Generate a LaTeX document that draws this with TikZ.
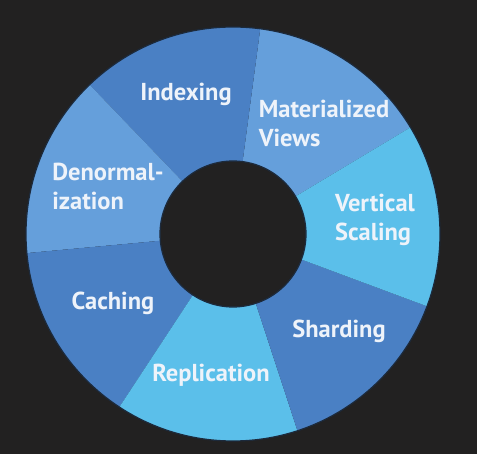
\documentclass[tikz,border=0pt]{standalone}
\usepackage{fontspec}
\setmainfont{PT Sans}
\definecolor{bgdark}{HTML}{222121}
\definecolor{segdark}{HTML}{4A80C4}
\definecolor{seglight}{HTML}{659FDB}
\definecolor{segsky}{HTML}{5BBFEA}
\definecolor{rimnavy}{HTML}{1C2A3C}
\definecolor{labelwhite}{HTML}{EEF3FA}
\tikzset{
  seglabel/.style={text=labelwhite, font=\bfseries\fontsize{24.5}{29}\selectfont, align=left, inner sep=0pt},
}
\begin{document}
\begin{tikzpicture}[x=1pt,y=1pt]
  \fill[bgdark] (-233,-220) rectangle (244,234);
  \useasboundingbox (-233,-220) rectangle (244,234);
  % seven equal wedges of the ring, from 31 degrees on
  \foreach \k/\col in {0/seglight,1/segdark,2/seglight,3/segdark,4/segsky,5/segdark,6/segsky}{
    \pgfmathsetmacro{\a}{31+\k*360/7}
    \pgfmathsetmacro{\b}{31+(\k+1)*360/7}
    \fill[\col] (\a:207) arc[start angle=\a,end angle=\b,radius=207]
      -- (\b:73) arc[start angle=\b,end angle=\a,radius=73] -- cycle;
  }
  \draw[rimnavy,line width=1.2pt] (0,0) circle[radius=207];
  \draw[rimnavy,line width=1.2pt] (0,0) circle[radius=73];
  \node[seglabel] (indexing) at (-47,140) {Indexing};
  \node[seglabel] (matviews) at (91,111) {Materialized\\Views};
  \node[seglabel] (vertical) at (142,14) {Vertical\\Scaling};
  \node[seglabel] (sharding) at (106,-97) {Sharding};
  \node[seglabel] (replication) at (-22,-141) {Replication};
  \node[seglabel] (caching) at (-120,-69) {Caching};
  \node[seglabel] (denorm) at (-125,48) {Denormal-\\ization};
\end{tikzpicture}
\end{document}
